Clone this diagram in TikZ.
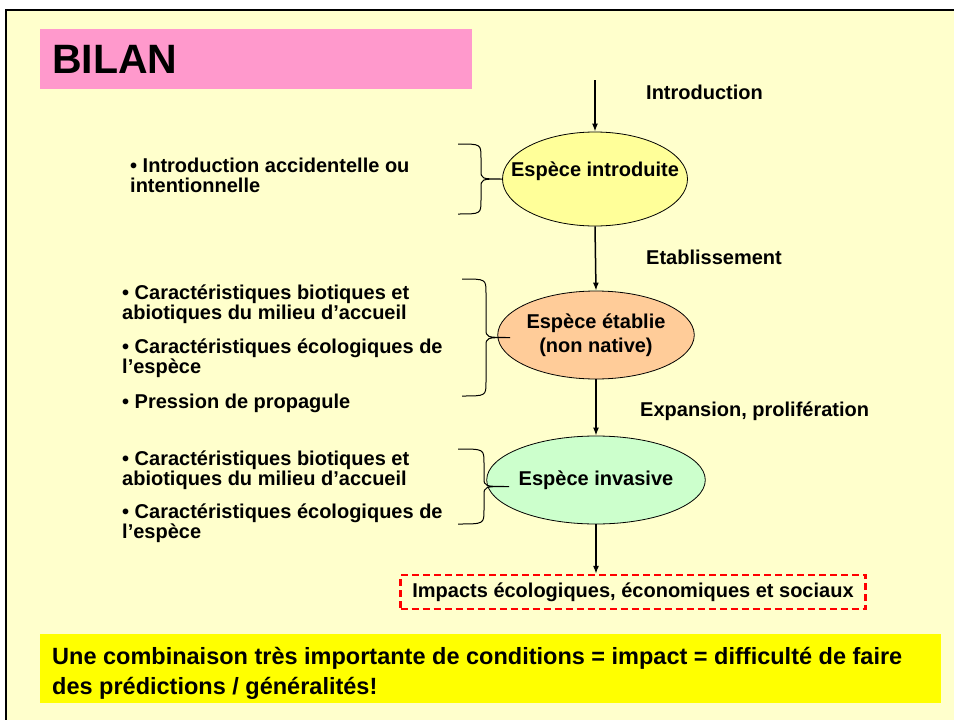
\documentclass[tikz,border=0pt]{standalone}
\usepackage{fontspec}
\setmainfont{Liberation Sans}
\usetikzlibrary{shapes.geometric,arrows.meta}

\definecolor{fond}{HTML}{FFFFCC}
\definecolor{rose}{HTML}{FF99CC}
\definecolor{jaunepale}{HTML}{FFFF99}
\definecolor{peche}{HTML}{FFCC99}
\definecolor{vertpale}{HTML}{CCFFCC}
\definecolor{jaunevif}{HTML}{FFFF00}

\tikzset{
  espece/.style={draw, ellipse, line width=0.8pt, inner sep=0pt, align=center,
    font=\fontsize{20}{24}\selectfont\bfseries},
  etape/.style={anchor=base west, inner sep=0pt, font=\fontsize{20}{24}\selectfont\bfseries},
  puce/.style={anchor=base west, inner sep=0pt, align=left, font=\fontsize{20}{20}\selectfont\bfseries},
  fleche/.style={-{Latex[length=8pt,width=6pt]}, line width=1.5pt},
  accolade/.style={line width=1pt},
}

% accolade : x du bout, x de la barre, y haut, y bas, x de la pointe
\newcommand{\accolade}[5]{%
  \pgfmathsetmacro{\accmil}{(#3+#4)/2}
  \draw[accolade] (#1,#3) .. controls (#2,#3) .. (#2,#3+14) -- (#2,\accmil-9)
    .. controls (#2,\accmil) .. (#5,\accmil) .. controls (#2,\accmil) .. (#2,\accmil+9)
    -- (#2,#4-14) .. controls (#2,#4) .. (#1,#4);
}

\begin{document}
\begin{tikzpicture}[x=1pt,y=-1pt]
  \useasboundingbox (0,0) rectangle (954,720);
  % fond et cadre de la diapositive
  \fill[fond] (7,11) rectangle (954,720);
  \draw[line width=2pt] (6,720) -- (6,10) -- (954,10);

  % titre
  \node[fill=rose, anchor=north west, minimum width=432pt, minimum height=60pt,
    text width=408pt, inner xsep=12pt, align=left,
    font=\fontsize{41}{41}\selectfont\bfseries] (bilan) at (40,29) {BILAN};

  % les trois etats de l'espece
  \node[espece, fill=jaunepale, minimum width=185pt, minimum height=94pt] (introduite) at (595,179) {};
  \node[espece, draw=none] (t-introduite) at (595,171) {Espèce introduite};
  \node[espece, fill=peche, minimum width=172pt, minimum height=88pt] (etablie) at (596,335)
    {Espèce établie\\(non native)};
  \node[espece, fill=vertpale, minimum width=172pt, minimum height=88pt] (invasive) at (596,480)
    {Espèce invasive};

  % impacts
  \node[draw=red, dash pattern=on 7pt off 4pt, line width=2.2pt, minimum width=465pt,
    minimum height=34pt, font=\fontsize{20}{24}\selectfont\bfseries] (impacts) at (633,592)
    {Impacts écologiques, économiques et sociaux};

  % fleches
  \coordinate (depart) at (595,80);
  \draw[fleche] (depart) -- (introduite.north);
  \draw[fleche] (introduite.south) -- (etablie.north);
  \draw[fleche] (etablie.south) -- (invasive.north);
  \draw[fleche] (invasive.south) -- (invasive.south |- impacts.north);

  % etapes
  \node[etape] (l-intro) at (646,99) {Introduction};
  \node[etape] (l-etab) at (646,264) {Etablissement};
  \node[etape] (l-exp) at (640,416) {Expansion, prolifération};

  % conditions (base = derniere ligne)
  \node[puce] (c-intro) at (130,192) {• Introduction accidentelle ou\\intentionnelle};
  \node[puce] (c-etab1) at (122,319) {• Caractéristiques biotiques et\\abiotiques du milieu d’accueil};
  \node[puce] (c-etab2) at (122,373) {• Caractéristiques écologiques de\\l’espèce};
  \node[puce] (c-etab3) at (122,408) {• Pression de propagule};
  \node[puce] (c-inv1) at (122,485) {• Caractéristiques biotiques et\\abiotiques du milieu d’accueil};
  \node[puce] (c-inv2) at (122,538) {• Caractéristiques écologiques de\\l’espèce};

  % accolades
  \accolade{458}{481}{144}{214}{503}
  \accolade{462}{486}{279}{396}{510}
  \accolade{458}{484}{449}{524}{509}

  % conclusion
  \node[fill=jaunevif, anchor=north west, minimum width=901pt, minimum height=69pt] (cadre-final) at (40,634) {};
  \node[anchor=base west, inner sep=0pt, align=left,
    font=\fontsize{23.5}{30}\selectfont\bfseries] (bilan-final) at (52,694)
    {Une combinaison très importante de conditions = impact = difficulté de faire\\des prédictions / généralités!};
\end{tikzpicture}
\end{document}
